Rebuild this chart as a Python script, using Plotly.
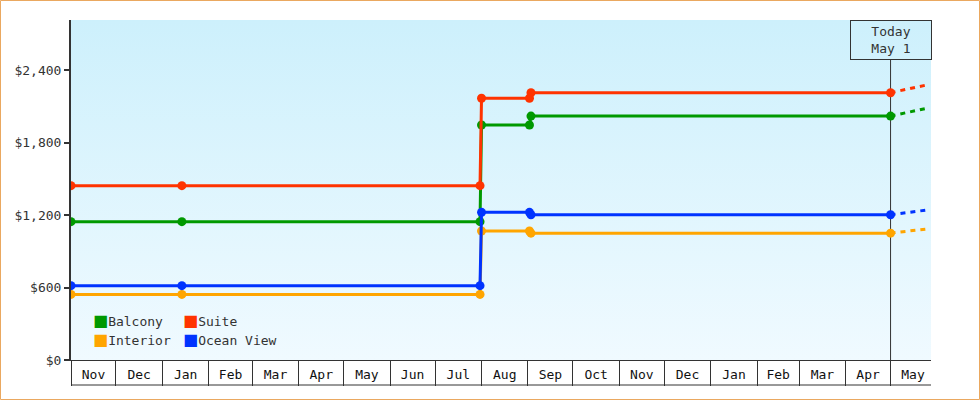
import base64
import plotly.graph_objects as go

# price observations
dates = ["2023-11-01", "2024-01-14", "2024-07-31", "2024-08-01",
         "2024-09-02", "2024-09-03", "2025-05-01"]
balcony = [1145, 1145, 1145, 1945, 1945, 2019, 2019]
suite = [1443, 1443, 1443, 2166, 2166, 2212, 2212]
interior = [543, 543, 543, 1068, 1068, 1050, 1050]
ocean_view = [615, 615, 615, 1222, 1222, 1202, 1202]

# projection past today
forecast_dates = ["2025-05-01", "2025-05-25"]
balcony_fc = [2019, 2083]
suite_fc = [2212, 2276]
interior_fc = [1050, 1084]
ocean_view_fc = [1202, 1241]

today = "2025-05-01"
x_range = ["2023-11-01", "2025-05-28"]
y_ticks = [0, 600, 1200, 1800, 2400]
y_labels = ["$" + format(v, ",") for v in y_ticks]

series = [
    ("Balcony", balcony, balcony_fc, "#009900"),
    ("Suite", suite, suite_fc, "#ff3300"),
    ("Interior", interior, interior_fc, "#ffa500"),
    ("Ocean View", ocean_view, ocean_view_fc, "#0033ff"),
]

FONT = "DejaVu Sans Mono"
INK = "#333333"

fig = go.Figure()

for name, vals, fc, color in series:
    fig.add_trace(go.Scatter(x=forecast_dates, y=fc, mode="lines", showlegend=False,
                             line=dict(color=color, width=3, dash="5px,5px")))
    fig.add_trace(go.Scatter(x=dates, y=vals, mode="lines+markers", name=name, showlegend=False,
                             line=dict(color=color, width=3),
                             marker=dict(color=color, size=9)))

# legend: one small legend per entry, 2 x 2 grid
legend_ids = ["legend", "legend2", "legend3", "legend4"]
for lid, (name, vals, fc, color) in zip(legend_ids, series):
    label = ('<span style="font-family:DejaVu Sans;font-size:16px;color:%s">■</span>%s'
             % (color, name))
    fig.add_trace(go.Scatter(x=[None], y=[None], mode="markers", name=label, legend=lid,
                             marker=dict(color="rgba(0,0,0,0)", size=1)))

# helper trace for the month divider axis
fig.add_trace(go.Scatter(x=[None], y=[None], xaxis="x2", showlegend=False, hoverinfo="skip"))

# gradient background of the plot area
svg = ('<svg xmlns="http://www.w3.org/2000/svg" width="10" height="100" preserveAspectRatio="none">'
       '<defs><linearGradient id="g" x1="0" y1="0" x2="0" y2="1">'
       '<stop offset="0" stop-color="#cdf0fc"/><stop offset="1" stop-color="#f0faff"/>'
       '</linearGradient></defs><rect width="10" height="100" fill="url(#g)"/></svg>')
bg_src = "data:image/svg+xml;base64," + base64.b64encode(svg.encode()).decode()

W, H = 980, 400
ml, mr, mt, mb = 71, 49, 20, 40
pw, ph = W - ml - mr, H - mt - mb


def legend_at(px, py):
    # px: left edge of the square, py: row centre, both in page pixels
    return dict(x=(px - 40 - ml) / pw, y=(mt + ph - py) / ph,
                xanchor="left", yanchor="middle", bgcolor="rgba(0,0,0,0)",
                font=dict(family=FONT, size=13, color=INK),
                itemclick=False, itemdoubleclick=False)


fig.update_layout(
    width=W, height=H,
    margin=dict(l=ml, r=mr, t=mt, b=mb),
    paper_bgcolor="white",
    plot_bgcolor="rgba(0,0,0,0)",
    font=dict(family=FONT, size=13, color=INK),
    legend=legend_at(93, 320.5),
    legend2=legend_at(183, 320.5),
    legend3=legend_at(93, 340),
    legend4=legend_at(183, 340),
    xaxis=dict(type="date", range=x_range, dtick="M1", tick0="2023-11-01",
               tickformat="%b", ticklabelmode="period", ticks="",
               ticklabelstandoff=2,
               showgrid=False, zeroline=False, showline=True, linecolor=INK, linewidth=1,
               tickfont=dict(family=FONT, size=13, color="#111111")),
    xaxis2=dict(type="date", overlaying="x", matches="x", range=x_range, side="bottom",
                dtick="M1", tick0="2023-11-01", ticks="outside", ticklen=25,
                tickcolor=INK, tickwidth=1, showticklabels=False,
                showgrid=False, zeroline=False, showline=False),
    yaxis=dict(range=[0, 2814], tickvals=y_ticks, ticktext=y_labels,
               ticks="outside", ticklen=5, tickwidth=2, tickcolor=INK,
               showgrid=False, zeroline=False, showline=True, linecolor=INK, linewidth=2,
               tickfont=dict(family=FONT, size=13, color=INK)),
    images=[dict(source=bg_src, xref="paper", yref="paper", x=0, y=1, sizex=1, sizey=1,
                 xanchor="left", yanchor="top", sizing="stretch", layer="below")],
    shapes=[
        # today marker line
        dict(type="line", xref="x", yref="paper", x0=today, x1=today, y0=0,
             y1=(360 - 60) / ph, line=dict(color=INK, width=1), layer="below"),
        # bottom edge of month boxes
        dict(type="line", xref="paper", yref="paper", x0=0, x1=1,
             y0=-25 / ph, y1=-25 / ph, line=dict(color=INK, width=1)),
        # outer frame
        dict(type="rect", xref="paper", yref="paper",
             x0=(0.5 - ml) / pw, x1=(W - 0.5 - ml) / pw,
             y0=-(H - 0.5 - mt - ph) / ph, y1=(ph + mt - 0.5) / ph,
             line=dict(color="#eaa860", width=1)),
    ],
    annotations=[
        dict(x=today, y=1, xref="x", yref="paper", xanchor="center", yanchor="top",
             text="Today<br>May 1", showarrow=False, width=74, borderpad=3,
             bordercolor=INK, borderwidth=1, bgcolor="rgba(0,0,0,0)",
             font=dict(family=FONT, size=13, color=INK)),
    ],
)

fig.write_html("out.html", config={"displayModeBar": False},
               post_script="document.body.style.margin = '0';")
